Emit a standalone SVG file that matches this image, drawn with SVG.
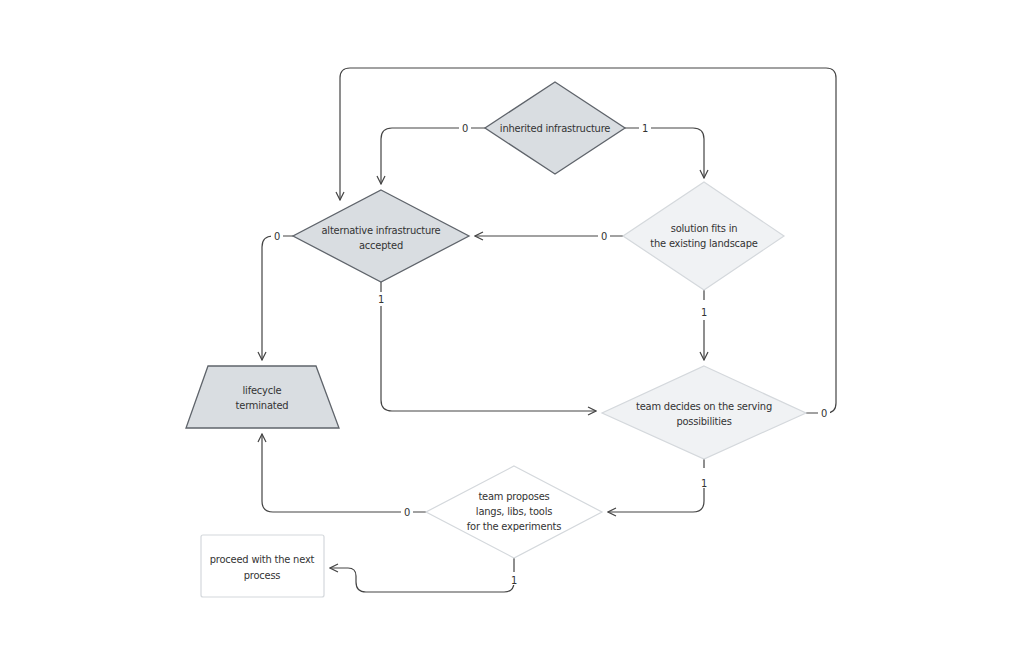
<svg xmlns="http://www.w3.org/2000/svg" width="1025" height="661" viewBox="0 0 1025 661">
<style>
text{font-family:"Liberation Sans Narrow","DejaVu Sans Condensed",sans-serif;font-size:11px;letter-spacing:-0.2px;fill:#333;text-anchor:middle}
.dark{fill:#d9dde1;stroke:#5f646b;stroke-width:1.3}
.light{fill:#f0f2f4;stroke:#d4d8dc;stroke-width:1.2}
.white{fill:#fff;stroke:#d4d8dc;stroke-width:1.2}
.c{fill:none;stroke:#444;stroke-width:1.2}
.lb{fill:#fff}
</style>
<defs>
<marker id="a" viewBox="0 0 10 10" refX="9" refY="5" markerWidth="10" markerHeight="10" markerUnits="userSpaceOnUse" orient="auto"><path d="M1 1 L9 5 L1 9" fill="none" stroke="#444" stroke-width="1.2"/></marker>
</defs>
<rect width="1025" height="661" fill="#fff"/>
<g id="connectors">
<path class="c" d="M485 128 H392 Q381 128 381 139 V184" marker-end="url(#a)"/>
<path class="c" d="M625 128 H693 Q704 128 704 139 V178" marker-end="url(#a)"/>
<path class="c" d="M623 236 H475" marker-end="url(#a)"/>
<path class="c" d="M704 290 V360" marker-end="url(#a)"/>
<path class="c" d="M293 236 H273 Q262 236 262 247 V360" marker-end="url(#a)"/>
<path class="c" d="M381 282 V400 Q381 411 392 411 H596" marker-end="url(#a)"/>
<path class="c" d="M806 413 H826 Q836 413 836 403 V78 Q836 68 826 68 H350 Q340 68 340 78 V200" marker-end="url(#a)"/>
<path class="c" d="M704 458 V501 Q704 512 693 512 H608" marker-end="url(#a)"/>
<path class="c" d="M426 512 H273 Q262 512 262 501 V434" marker-end="url(#a)"/>
<path class="c" d="M514 558 V582 Q514 592 504 592 H366 Q356 592 356 582 V576 Q356 568 348 568 H330" marker-end="url(#a)"/>
<g id="labels">
<rect class="lb" x="459" y="120" width="12" height="16"/><text x="465" y="132">0</text>
<rect class="lb" x="639" y="120" width="12" height="16"/><text x="645" y="132">1</text>
<rect class="lb" x="598" y="228" width="12" height="16"/><text x="604" y="240">0</text>
<rect class="lb" x="698" y="300" width="12" height="20"/><text x="704" y="316">1</text>
<rect class="lb" x="271" y="228" width="12" height="16"/><text x="277" y="240">0</text>
<rect class="lb" x="375" y="292" width="12" height="14"/><text x="381" y="303">1</text>
<rect class="lb" x="818" y="405" width="12" height="16"/><text x="824" y="417">0</text>
<rect class="lb" x="698" y="468" width="12" height="20"/><text x="704" y="487">1</text>
<rect class="lb" x="401" y="504" width="12" height="16"/><text x="407" y="516">0</text>
<rect class="lb" x="508" y="572" width="12" height="13"/><text x="514" y="584">1</text>
</g>
</g>
<g id="n1"><polygon class="dark" points="555,82 625,128 555,174 485,128"/><text x="555" y="132">inherited infrastructure</text></g>
<g id="n2"><polygon class="dark" points="381,190 469,236 381,282 293,236"/><text x="381" y="234">alternative infrastructure</text><text x="381" y="249">accepted</text></g>
<g id="n3"><polygon class="light" points="704,182 784,236 704,290 623,236"/><text x="704" y="232">solution fits in</text><text x="704" y="247">the existing landscape</text></g>
<g id="n4"><polygon class="light" points="704,366 806,413 704,459 602,413"/><text x="704" y="410">team decides on the serving</text><text x="704" y="425">possibilities</text></g>
<g id="n5"><polygon class="white" points="514,466 602,512 514,558 426,512"/><text x="514" y="500">team proposes</text><text x="514" y="515">langs, libs, tools</text><text x="514" y="530">for the experiments</text></g>
<g id="n6"><polygon class="dark" points="208,366 316,366 339,428 186,428"/><text x="262" y="394">lifecycle</text><text x="262" y="409">terminated</text></g>
<g id="n7"><rect class="white" x="201" y="535" width="123" height="62" rx="2"/><text x="262" y="563">proceed with the next</text><text x="262" y="579">process</text></g>
</svg>
